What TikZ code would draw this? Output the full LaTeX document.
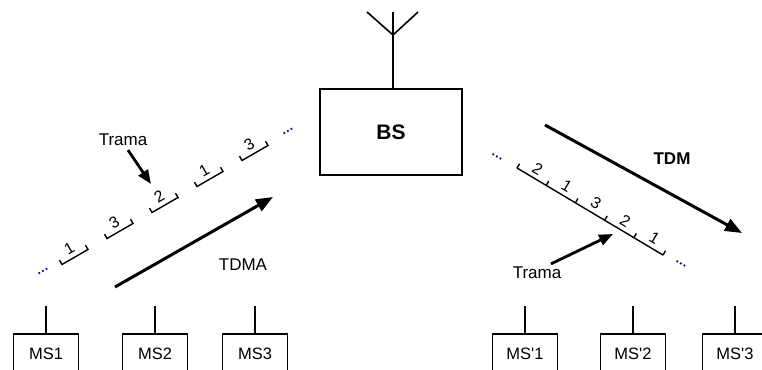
\documentclass[tikz,border=0pt]{standalone}
\usepackage{fontspec}
\setmainfont{Liberation Sans}
\usetikzlibrary{arrows.meta}

\tikzset{
  station/.style={draw, line width=1.6pt, minimum width=65pt, minimum height=40pt,
    anchor=north, inner sep=0pt, font=\fontsize{16.5}{18}\selectfont},
  bigarrow/.style={line width=3pt, -{Triangle[length=17pt,width=13pt]}},
  ptrarrow/.style={line width=2.8pt, -{Triangle[length=14pt,width=11pt]}},
  slotnum/.style={font=\fontsize{16}{16}\selectfont, inner sep=0pt},
  tag/.style={font=\fontsize{17}{19}\selectfont, inner sep=1pt},
  moredots/.style={text=blue!55!black, font=\fontsize{13}{13}\selectfont\bfseries, inner sep=0pt}
}

\begin{document}
\begin{tikzpicture}[x=1pt,y=-1pt]
  \clip (0,0) rectangle (762,369);
  % Base station with antenna
  \node[draw, line width=1.6pt, minimum width=142pt, minimum height=86pt,
    font=\fontsize{21}{24}\selectfont\bfseries] (bs) at (391,132) {BS};
  \coordinate (ant) at (393,35);
  \draw[line width=1.6pt] (bs.north -| ant) -- (ant) -- ++(0,-23);
  \draw[line width=1.6pt] (367,12) -- (ant) -- (418,12);

  % Mobile stations
  \foreach \name/\txt/\x in {ms1/MS1/46, ms2/MS2/155, ms3/MS3/255,
      msb1/MS\textquotesingle 1/525, msb2/MS\textquotesingle 2/633, msb3/MS\textquotesingle 3/735}{
    \node[station] (\name) at (\x,333) {\txt};
    \draw[line width=1.6pt] (\name.north) -- ++(0,-27);
  }

  % TDMA frames (uplink)
  \foreach \n [count=\k from 0] in {1,3,2,1,3}{
    \begin{scope}[shift={(75+45*\k,257-26*\k)}, rotate=30]
      \draw[line width=1.4pt] (-15,-5) -- (-15,0) -- (15,0) -- (15,-5);
      \node[slotnum, rotate=30] (slotu\k) at (-1,-10) {\n};
    \end{scope}
  }
  \node[moredots, rotate=30] (dotsu1) at (43,271) {\ldots};
  \node[moredots, rotate=30] (dotsu2) at (288,131) {\ldots};

  % TDM frame (downlink)
  \begin{scope}[shift={(517,168)}, rotate=-30.8]
    \draw[line width=1.4pt] (0,0) -- (170,0);
    \foreach \t in {0,...,5}
      \draw[line width=1.4pt] (34*\t,0) -- ++(0,-5);
    \foreach \n [count=\k from 0] in {2,1,3,2,1}
      \node[slotnum, rotate=-30.8] (slotd\k) at (34*\k+18,-10) {\n};
  \end{scope}
  \node[moredots, rotate=-30] (dotsd1) at (497,157) {\ldots};
  \node[moredots, rotate=-30] (dotsd2) at (681,264) {\ldots};

  % Arrows and labels
  \coordinate (tdmaS) at (115,287);
  \coordinate (tdmaE) at (273,197);
  \draw[bigarrow] (tdmaS) -- (tdmaE);
  \node[tag] (tdma) at (243,265) {TDMA};

  \coordinate (tdmS) at (545,125);
  \coordinate (tdmE) at (742,233);
  \draw[bigarrow] (tdmS) -- (tdmE);
  \node[tag] (tdm) at (672,159) {\bfseries TDM};

  \node[tag] (tramaL) at (123,140) {Trama};
  \coordinate (ptrL) at (151,184);
  \draw[ptrarrow] ([xshift=5pt,yshift=-3pt]tramaL.south) -- (ptrL);

  \node[tag] (tramaR) at (537,273) {Trama};
  \coordinate (ptrR) at (613,234);
  \draw[ptrarrow] ([xshift=14pt,yshift=2pt]tramaR.north) -- (ptrR);
\end{tikzpicture}
\end{document}
